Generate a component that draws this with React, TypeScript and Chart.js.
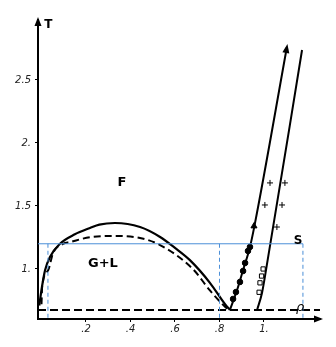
import React, { useEffect, useRef } from "react";
import { Chart, registerables } from "chart.js";

Chart.register(...registerables);

// Axis extent (density x, temperature T)
const xMin = -0.0157;
const xMax = 1.2517;
const yMin = 0.603;
const yMax = 2.976;

const xTicks = [0.2, 0.4, 0.6, 0.8, 1.0];
const xTickLabels = [".2", ".4", ".6", ".8", "1."];
const yTicks = [1, 1.5, 2, 2.5];
const yTickLabels = ["1.", "1.5", "2.", "2.5"];

// Gas-liquid coexistence curve (solid)
const solidCurve: [number, number][] = [
  [-0.01, 0.71], [0.002, 0.857], [0.016, 0.99], [0.038, 1.095], [0.083, 1.2],
  [0.15, 1.275], [0.218, 1.325], [0.26, 1.352], [0.33, 1.365], [0.443, 1.333],
  [0.533, 1.254], [0.6, 1.167], [0.667, 1.07], [0.757, 0.89], [0.825, 0.72],
  [0.847, 0.675],
];
// Coexistence curve (dashed)
const dashedCurve: [number, number][] = [
  [0.0, 0.72], [0.003, 0.857], [0.03, 0.99], [0.052, 1.127], [0.097, 1.2],
  [0.128, 1.214], [0.218, 1.252], [0.33, 1.262], [0.443, 1.246], [0.533, 1.19],
  [0.68, 1.0], [0.757, 0.83], [0.825, 0.7], [0.838, 0.68],
];
// Solid-fluid boundaries
const leftSolidLine: [number, number][] = [
  [0.847, 0.675], [0.879, 0.833], [0.906, 0.992], [0.937, 1.175], [0.958, 1.35],
  [1.103, 2.762],
];
const rightSolidLine: [number, number][] = [
  [0.969, 0.675], [0.991, 0.81], [1.004, 0.937], [1.171, 2.738],
];
// Simulation markers
const filledDots: [number, number][] = [
  [0.937, 1.175], [0.928, 1.143], [0.915, 1.048], [0.906, 0.984],
  [0.892, 0.897], [0.874, 0.817], [0.861, 0.762],
];
const triangles: [number, number][] = [[0.955, 1.34]];
const crosses: [number, number][] = [
  [1.027, 1.683], [1.094, 1.683], [1.004, 1.508], [1.081, 1.508], [1.058, 1.333],
];
const squares: [number, number][] = [
  [0.996, 1.0], [0.989, 0.944], [0.982, 0.89], [0.978, 0.815],
];

const triplePointT = 0.675;
const levelT = 1.2;
const levelXs = [0.029, 0.8, 1.175];

const labels: { text: string; x: number; y: number; font: string }[] = [
  { text: "F", x: 0.362, y: 1.683, font: "bold 13px 'DejaVu Sans'" },
  { text: "G+L", x: 0.276, y: 1.04, font: "bold 13px 'DejaVu Sans'" },
  { text: "S", x: 1.153, y: 1.225, font: "bold 12px 'DejaVu Sans'" },
  { text: "ρ", x: 1.162, y: 0.69, font: "italic 13px 'DejaVu Sans'" },
  { text: "T", x: 0.031, y: 2.94, font: "bold 12px 'DejaVu Sans'" },
];

const toPts = (a: [number, number][]) => a.map(([x, y]) => ({ x, y }));

const BLUE = "#4b8fd8";

export default function App() {
  const ref = useRef<HTMLCanvasElement | null>(null);

  useEffect(() => {
    if (!ref.current) return;

    const decor = {
      id: "decor",
      afterDatasetsDraw(chart: any) {
        const ctx = chart.ctx;
        const xs = chart.scales.x;
        const ys = chart.scales.y;
        const area = chart.chartArea;
        ctx.save();
        ctx.fillStyle = "#000";
        // y-axis arrow
        ctx.beginPath();
        ctx.moveTo(area.left, area.top - 3);
        ctx.lineTo(area.left - 3.5, area.top + 6);
        ctx.lineTo(area.left + 3.5, area.top + 6);
        ctx.closePath();
        ctx.fill();
        // x-axis arrow
        ctx.beginPath();
        ctx.moveTo(area.right + 3, area.bottom);
        ctx.lineTo(area.right - 6, area.bottom - 3.5);
        ctx.lineTo(area.right - 6, area.bottom + 3.5);
        ctx.closePath();
        ctx.fill();
        // arrow at end of left solid line
        const n = leftSolidLine.length;
        const [x1, y1] = leftSolidLine[n - 2];
        const [x2, y2] = leftSolidLine[n - 1];
        const px1 = xs.getPixelForValue(x1), py1 = ys.getPixelForValue(y1);
        const px2 = xs.getPixelForValue(x2), py2 = ys.getPixelForValue(y2);
        const ang = Math.atan2(py2 - py1, px2 - px1);
        ctx.translate(px2, py2);
        ctx.rotate(ang);
        ctx.beginPath();
        ctx.moveTo(3, 0);
        ctx.lineTo(-6, -3.5);
        ctx.lineTo(-6, 3.5);
        ctx.closePath();
        ctx.fill();
        ctx.setTransform(1, 0, 0, 1, 0, 0);
        // text labels
        ctx.textAlign = "center";
        ctx.textBaseline = "middle";
        for (const l of labels) {
          ctx.font = l.font;
          ctx.fillText(l.text, xs.getPixelForValue(l.x), ys.getPixelForValue(l.y));
        }
        ctx.restore();
      },
    };

    const line = (data: [number, number][], extra: any = {}) => ({
      data: toPts(data),
      showLine: true,
      borderColor: "#000",
      borderWidth: 2,
      pointRadius: 0,
      fill: false,
      ...extra,
    });

    const datasets: any[] = [
      // blue guide lines
      line([[xMin, levelT], [levelXs[2], levelT]], { borderColor: BLUE, borderWidth: 1 }),
      ...levelXs.map((lx) =>
        line([[lx, levelT], [lx, yMin]], { borderColor: BLUE, borderWidth: 1, borderDash: [4, 3] })
      ),
      // triple point line
      line([[xMin, triplePointT], [xMax, triplePointT]], { borderDash: [8, 4], borderWidth: 2 }),
      line(solidCurve, { cubicInterpolationMode: "monotone", borderWidth: 2.2 }),
      line(dashedCurve, { cubicInterpolationMode: "monotone", borderDash: [7, 4], borderWidth: 2 }),
      line(leftSolidLine, { cubicInterpolationMode: "monotone", borderWidth: 2 }),
      line(rightSolidLine, { cubicInterpolationMode: "monotone", borderWidth: 2 }),
      {
        data: toPts(filledDots), showLine: false, pointStyle: "circle",
        pointRadius: 2.8, backgroundColor: "#000", borderColor: "#000", borderWidth: 1,
      },
      {
        data: toPts(triangles), showLine: false, pointStyle: "triangle",
        pointRadius: 3.5, backgroundColor: "#000", borderColor: "#000", borderWidth: 1,
      },
      {
        data: toPts(crosses), showLine: false, pointStyle: "cross",
        pointRadius: 3, borderColor: "#000", borderWidth: 1,
      },
      {
        data: toPts(squares), showLine: false, pointStyle: "rect",
        pointRadius: 3, backgroundColor: "#fff", borderColor: "#000", borderWidth: 1,
      },
    ];

    const tickFont = { family: "'DejaVu Sans'", size: 10, style: "italic" as const };

    const chart = new Chart(ref.current, {
      type: "scatter",
      data: { datasets },
      plugins: [decor],
      options: {
        animation: false,
        responsive: false,
        devicePixelRatio: 1,
        layout: { padding: { top: 20, right: 16, left: 0, bottom: 0 } },
        plugins: { legend: { display: false }, tooltip: { enabled: false } },
        scales: {
          x: {
            type: "linear",
            min: xMin,
            max: xMax,
            afterBuildTicks: (s: any) => { s.ticks = xTicks.map((v) => ({ value: v })); },
            afterFit: (s: any) => { s.height = 28; },
            ticks: {
              color: "#222",
              font: tickFont,
              padding: 1,
              maxRotation: 0,
              callback: (v: any) => { const i = xTicks.indexOf(Number(v)); return i >= 0 ? xTickLabels[i] : ""; },
            },
            grid: { drawOnChartArea: false, drawTicks: true, tickLength: 3, color: "#000" },
            border: { color: "#000", width: 2 },
          },
          y: {
            type: "linear",
            min: yMin,
            max: yMax,
            afterBuildTicks: (s: any) => { s.ticks = yTicks.map((v) => ({ value: v })); },
            afterFit: (s: any) => { s.width = 38; },
            ticks: {
              color: "#222",
              font: tickFont,
              padding: 4,
              callback: (v: any) => { const i = yTicks.indexOf(Number(v)); return i >= 0 ? yTickLabels[i] : ""; },
            },
            grid: { drawOnChartArea: false, drawTicks: true, tickLength: 3, color: "#000" },
            border: { color: "#000", width: 2 },
          },
        },
      },
    });
    return () => chart.destroy();
  }, []);

  return (
    <div style={{ position: "fixed", left: 0, top: 0, width: 336, height: 347, background: "#fff" }}>
      <canvas ref={ref} width={336} height={347} />
    </div>
  );
}
